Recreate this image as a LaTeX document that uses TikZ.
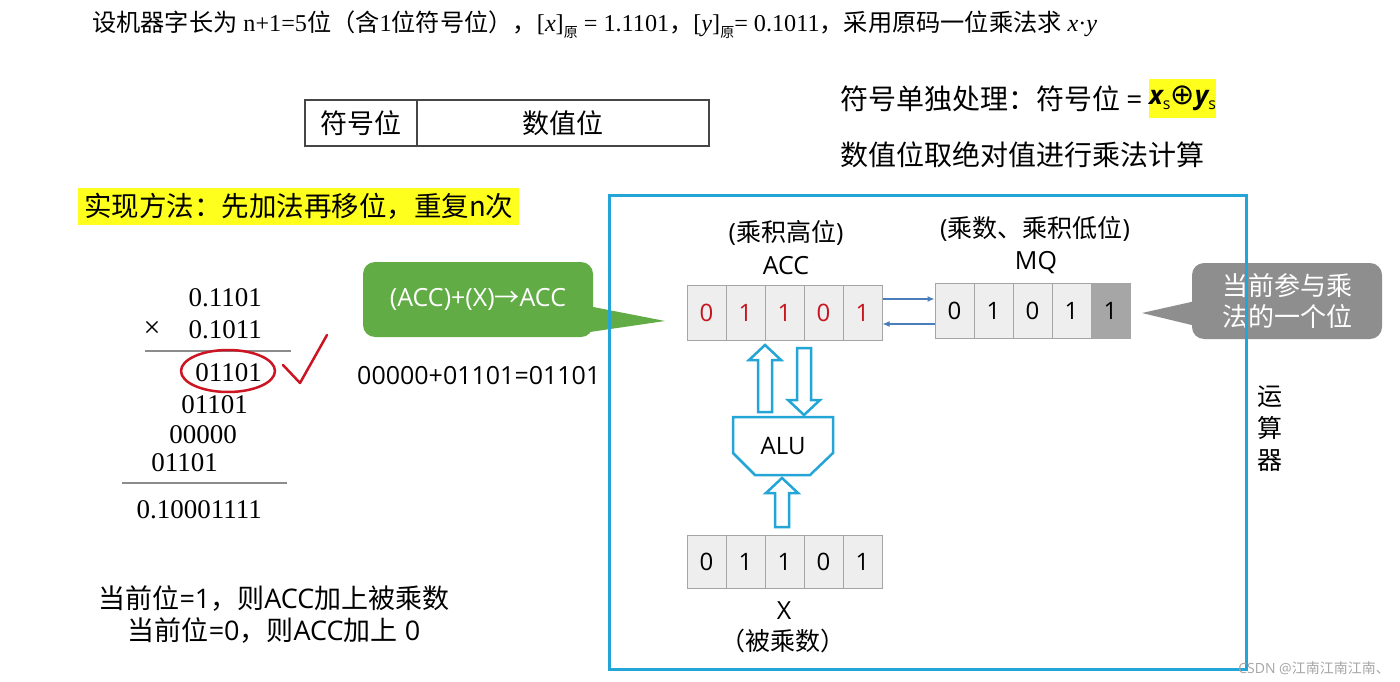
\documentclass[tikz,border=0pt]{standalone}
\usepackage{fontspec}
\setmainfont{Liberation Serif}
\newfontfamily\cjk{Noto Sans CJK SC}
\newfontfamily\osans{Open Sans}
\newfontfamily\dejavu{DejaVu Sans}
\usetikzlibrary{arrows.meta,calc}
\pgfdeclarelayer{bg}
\pgfsetlayers{bg,main}
\definecolor{boxblue}{RGB}{35,165,215}
\definecolor{arrblue}{RGB}{74,126,187}
\definecolor{cellfill}{RGB}{238,238,238}
\definecolor{celldraw}{RGB}{165,165,165}
\definecolor{darkcell}{RGB}{166,166,166}
\definecolor{accred}{RGB}{200,20,30}
\definecolor{calloutgreen}{RGB}{98,172,70}
\definecolor{calloutgreenb}{RGB}{75,135,50}
\definecolor{calloutgray}{RGB}{142,142,142}
\definecolor{calloutgrayb}{RGB}{110,110,110}
\definecolor{hlyellow}{RGB}{255,255,30}
\definecolor{inkred}{RGB}{205,20,35}
\definecolor{rulegray}{RGB}{140,140,140}
\definecolor{framegray}{RGB}{70,70,70}
\newcommand\myfs[2]{\fontsize{#1}{#2}\selectfont}
\newcommand\yuansub{\raisebox{-6pt}{\cjk\myfs{14}{14}原}}
\newcommand\ssub{\raisebox{-5pt}{\osans\myfs{16}{16}s}}
\newcommand\harrow[3]{%
  \pgfmathsetmacro\harrowhb{(#3>#2)?(#3-15):(#3+15)}%
  \draw[hollow] ({#1-7},#2) -- ({#1-7},\harrowhb) -- ({#1-16},\harrowhb) -- (#1,#3)
    -- ({#1+16},\harrowhb) -- ({#1+7},\harrowhb) -- ({#1+7},#2) -- cycle;}
\begin{document}
\begin{tikzpicture}[x=1pt,y=-1pt,
  cell/.style={draw=celldraw, fill=cellfill, line width=1pt, minimum width=39pt,
    minimum height=55pt, inner sep=0pt, font=\osans\myfs{24}{28}},
  lab/.style={inner sep=0pt, font=\osans\myfs{25}{30}},
  num/.style={inner sep=0pt, anchor=east, font=\myfs{27}{30}},
  rule/.style={draw=rulegray, line width=1.5pt},
  hollow/.style={draw=boxblue, line width=2.5pt, fill=white, line join=miter},
  link/.style={draw=arrblue, line width=1.2pt, -{Latex[length=7pt,width=6pt]}},
  ink/.style={draw=inkred, line width=2.5pt, line cap=round, line join=round}]
\useasboundingbox (0,0) rectangle (1400,682);
\fill[white] (0,0) rectangle (1400,682);

% title
\node[anchor=base west, inner sep=0pt, font=\myfs{24.2}{28}] (title) at (92,32)
  {{\cjk 设机器字长为} n+1=5{\cjk 位（含}1{\cjk 位符号位），}[\textit{x}]\yuansub{} = 1.1101{\cjk ，}[\textit{y}]\yuansub= 0.1011{\cjk ，采用原码一位乘法求} \textit{x}·\textit{y}};

% sign / value format box
\node[draw=framegray, line width=1.2pt, minimum width=112pt, minimum height=46pt, inner sep=0pt,
  font=\cjk\myfs{27}{30}] (sgn) at (361,123) {符号位};
\node[draw=framegray, line width=1.2pt, minimum width=292pt, minimum height=46pt, inner sep=0pt,
  font=\cjk\myfs{27}{30}] (val) at (563,123) {数值位};

% right notes
\node[anchor=west, inner sep=0pt, font=\cjk\myfs{28}{32}] (s1) at (840,98.5) {符号单独处理：符号位 {\osans =}};
\node[fill=hlyellow, minimum width=63pt, minimum height=39pt, inner sep=0pt, font=\myfs{26}{30}] (s2) at (1182.5,98.5)
  {{\osans\bfseries\itshape x}\ssub{\dejavu\myfs{29}{30}⊕}{\osans\bfseries\itshape y}\ssub};
\node[anchor=west, inner sep=0pt, font=\cjk\myfs{28}{32}] (s3) at (840,155) {数值位取绝对值进行乘法计算};

% method
\node[fill=hlyellow, anchor=west, minimum width=441pt, minimum height=37pt, inner sep=2pt,
  font=\cjk\myfs{27.5}{32}] (method) at (78,206.5) {实现方法：先加法再移位，重复n次};

% hand calculation
\node[num] (r1) at (262,298) {0.1101};
\node[num] (r2) at (262,330) {0.1011};
\node[inner sep=0pt, font=\myfs{30}{30}] (times) at (152,329) {×};
\draw[rule] (145,351) -- (291,351);
\node[num] (r3) at (262,373) {01101};
\node[num] (r4) at (248,405) {01101};
\node[num] (r5) at (237,435) {00000};
\node[num] (r6) at (218,463) {01101};
\draw[rule] (122,483) -- (287,483);
\node[num] (r7) at (262,510) {0.10001111};
\draw[ink] (228,371) ellipse [x radius=47, y radius=21];
\draw[ink] (283,365) -- (300,383) -- (327,335);

% green callout
\node[fill=calloutgreen, text=white, rounded corners=12pt, minimum width=230pt, minimum height=75pt,
  inner sep=0pt, font=\osans\myfs{25}{30}] (cg) at (478,299.5) {(ACC)+(X){\cjk →}ACC};
\begin{pgfonlayer}{bg}
\draw[calloutgreenb, line width=3pt, rounded corners=12pt] (cg.south west) rectangle (cg.north east);
\draw[calloutgreenb, line width=3pt, line join=round] (583,305) -- (665,321) -- (583,333) -- cycle;
\end{pgfonlayer}
\fill[calloutgreen] (583,305) -- (665,321) -- (583,333) -- cycle;

\node[anchor=west, inner sep=0pt, font=\osans\myfs{25}{30}] (eq) at (357,376) {00000+01101=01101};

% registers
\foreach \d [count=\i] in {0,1,1,0,1}
  \node[cell, text=accred] (acc\i) at ({706.5+39*(\i-1)},312.5) {\d};
\foreach \d [count=\i] in {0,1,0,1}
  \node[cell] (mq\i) at ({954.5+39*(\i-1)},310.5) {\d};
\node[cell, fill=darkcell] (mq5) at ({954.5+39*4},310.5) {1};
\foreach \d [count=\i] in {0,1,1,0,1}
  \node[cell, minimum height=53pt] (xr\i) at ({706.5+39*(\i-1)},561.5) {\d};

\node[lab] (acclab) at (786,233) {({\cjk 乘积高位})};
\node[lab] (accname) at (786,266) {ACC};
\node[lab] (mqlab) at (1035,229) {({\cjk 乘数、乘积低位})};
\node[lab] (mqname) at (1036,263) {MQ};
\node[lab] (xname) at (784,611) {X};
\node[lab, font=\cjk\myfs{25}{30}] (xlab) at (783,641) {（被乘数）};

\draw[link] ($(acc5.east)+(0,-13.5)$) coordinate (p1) -- (p1 -| mq1.west);
\draw[link] ($(mq1.west)+(0,13.5)$) coordinate (p2) -- (p2 -| acc5.east);

% ALU
\draw[draw=boxblue, line width=2.5pt, line join=miter]
  (733,417) -- (833,417) -- (833,453) -- (810,475) -- (755,475) -- (733,453) -- cycle;
\node[lab, font=\osans\myfs{24}{28}] (alu) at (783,446) {ALU};
\harrow{765}{412}{345}
\harrow{804}{348}{415}
\harrow{782}{527}{478}

% gray callout
\node[fill=calloutgray, text=white, rounded corners=12pt, minimum width=190pt, minimum height=76pt,
  inner sep=0pt, align=center, font=\cjk\myfs{26}{31}] (cgr) at (1287,301) {当前参与乘\\法的一个位};
\begin{pgfonlayer}{bg}
\draw[calloutgrayb, line width=3pt, rounded corners=12pt] (cgr.south west) rectangle (cgr.north east);
\draw[calloutgrayb, line width=3pt, line join=round] (1200,300) -- (1142,313) -- (1200,327) -- cycle;
\end{pgfonlayer}
\fill[calloutgray] (1200,300) -- (1142,313) -- (1200,327) -- cycle;

% arithmetic unit frame
\draw[boxblue, line width=3pt] (609,195) rectangle (1246,669);
\node[align=center, inner sep=0pt, font=\cjk\myfs{25}{32}] (ysq) at (1270,429) {运\\算\\器};

% bottom notes
\node[align=center, inner sep=0pt, font=\osans\myfs{27}{32}] (note) at (274,615)
  {{\cjk 当前位}=1{\cjk ，则}ACC{\cjk 加上被乘数}\\{\cjk 当前位}=0{\cjk ，则}ACC{\cjk 加上} 0};

\node[anchor=east, inner sep=0pt, text=black!35, font=\osans\myfs{14}{16}] (wm) at (1390,668)
  {CSDN @{\cjk 江南江南江南、}};
\end{tikzpicture}
\end{document}
